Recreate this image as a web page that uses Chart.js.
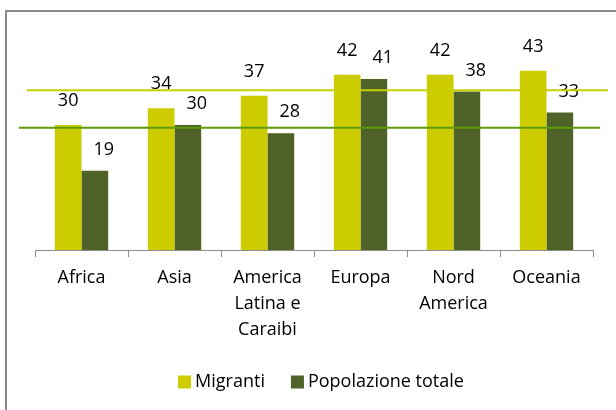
<!DOCTYPE html>
<html>
<head>
<meta charset="utf-8">
<script src="https://cdn.jsdelivr.net/npm/chart.js@4.4.1/dist/chart.umd.min.js"></script>
<style>
  html, body { margin: 0; padding: 0; background: #fff; }
  #wrap { width: 616px; height: 410px; }
</style>
</head>
<body>
<div id="wrap"><canvas id="grafico" width="616" height="410"></canvas></div>
<script>
// Dati
const categorie = [['Africa'], ['Asia'], ['America', 'Latina e', 'Caraibi'], ['Europa'], ['Nord', 'America'], ['Oceania']];
const nomiSerie = ['Migranti', 'Popolazione totale'];
const migranti = [30, 34, 37, 42, 42, 43];
const popolazioneTotale = [19, 30, 28, 41, 38, 33];
// linee orizzontali di riferimento (valori stimati)
const lineeRiferimento = [38.3, 29.3];

const FONT = '"Open Sans", "Noto Sans", sans-serif';
const GIALLO = '#CCCC00';
const VERDE_SCURO = '#4F6228';
const COLORI_LINEE = ['#C8D000', '#5E9A0A'];

// Cornice grigia (angolo in alto a sinistra)
const cornice = {
    id: 'cornice',
    beforeDraw(chart) {
        const ctx = chart.ctx;
        ctx.save();
        ctx.fillStyle = '#fff';
        ctx.fillRect(0, 0, chart.width, chart.height);
        ctx.fillStyle = '#8a8a8a';
        ctx.fillRect(5, 10, chart.width - 5, 2);
        ctx.fillRect(5, 10, 2, chart.height - 10);
        ctx.restore();
    }
};

// Etichette dei valori sopra le barre
const etichette = {
    id: 'etichette',
    afterDatasetsDraw(chart) {
        const ctx = chart.ctx;
        const spostamenti = [[0, -24], [9, -21]];
        ctx.save();
        ctx.font = '18px ' + FONT;
        ctx.fillStyle = '#000';
        ctx.textAlign = 'center';
        ctx.textBaseline = 'middle';
        chart.data.datasets.forEach((ds, i) => {
            const meta = chart.getDatasetMeta(i);
            meta.data.forEach((bar, j) => {
                ctx.fillText(String(ds.data[j]), bar.x + spostamenti[i][0], bar.y + spostamenti[i][1]);
            });
        });
        ctx.restore();
    }
};

// Linee orizzontali (disegnate sopra barre ed etichette)
const linee = {
    id: 'linee',
    afterDatasetsDraw(chart) {
        const ctx = chart.ctx;
        const y = chart.scales.y;
        const estremi = [[27, 608], [19, 600]];
        ctx.save();
        ctx.lineWidth = 2;
        lineeRiferimento.forEach((v, i) => {
            const py = y.getPixelForValue(v);
            ctx.strokeStyle = COLORI_LINEE[i];
            ctx.beginPath();
            ctx.moveTo(estremi[i][0], py);
            ctx.lineTo(estremi[i][1], py);
            ctx.stroke();
        });
        ctx.restore();
    }
};

// Legenda in basso
const legenda = {
    id: 'legenda',
    afterDraw(chart) {
        const ctx = chart.ctx;
        const box = 13, gap = 4, spazio = 26, cy = 382, cx = 321;
        ctx.save();
        ctx.font = '18px ' + FONT;
        ctx.textBaseline = 'middle';
        ctx.textAlign = 'left';
        const larghezze = chart.data.datasets.map(ds => ctx.measureText(ds.label).width);
        let totale = 0;
        larghezze.forEach((w, i) => { totale += box + gap + w + (i ? spazio : 0); });
        let x = cx - totale / 2;
        chart.data.datasets.forEach((ds, i) => {
            ctx.fillStyle = ds.backgroundColor;
            ctx.fillRect(x, cy - box / 2, box, box);
            ctx.fillStyle = '#000';
            ctx.fillText(ds.label, x + box + gap, cy);
            x += box + gap + larghezze[i] + spazio;
        });
        ctx.restore();
    }
};

new Chart(document.getElementById('grafico'), {
    type: 'bar',
    data: {
        labels: categorie,
        datasets: [
            { label: nomiSerie[0], data: migranti, backgroundColor: GIALLO },
            { label: nomiSerie[1], data: popolazioneTotale, backgroundColor: VERDE_SCURO }
        ]
    },
    options: {
        responsive: false,
        devicePixelRatio: 1,
        animation: false,
        layout: { padding: { left: 35, right: 23, top: 41.5, bottom: 0 } },
        datasets: {
            bar: { barPercentage: 1.0, categoryPercentage: 0.574 }
        },
        plugins: {
            legend: { display: false },
            tooltip: { enabled: false }
        },
        scales: {
            x: {
                grid: {
                    display: true,
                    drawOnChartArea: false,
                    drawTicks: true,
                    tickLength: 7,
                    color: '#8c8c8c'
                },
                border: { display: true, color: '#8c8c8c', width: 1 },
                ticks: {
                    color: '#000',
                    padding: 8,
                    maxRotation: 0,
                    autoSkip: false,
                    font: { family: FONT, size: 18, lineHeight: '26px' }
                },
                afterFit(scale) { scale.height = 160; }
            },
            y: {
                display: false,
                min: 0,
                max: 50
            }
        }
    },
    plugins: [cornice, etichette, linee, legenda]
});
</script>
</body>
</html>
